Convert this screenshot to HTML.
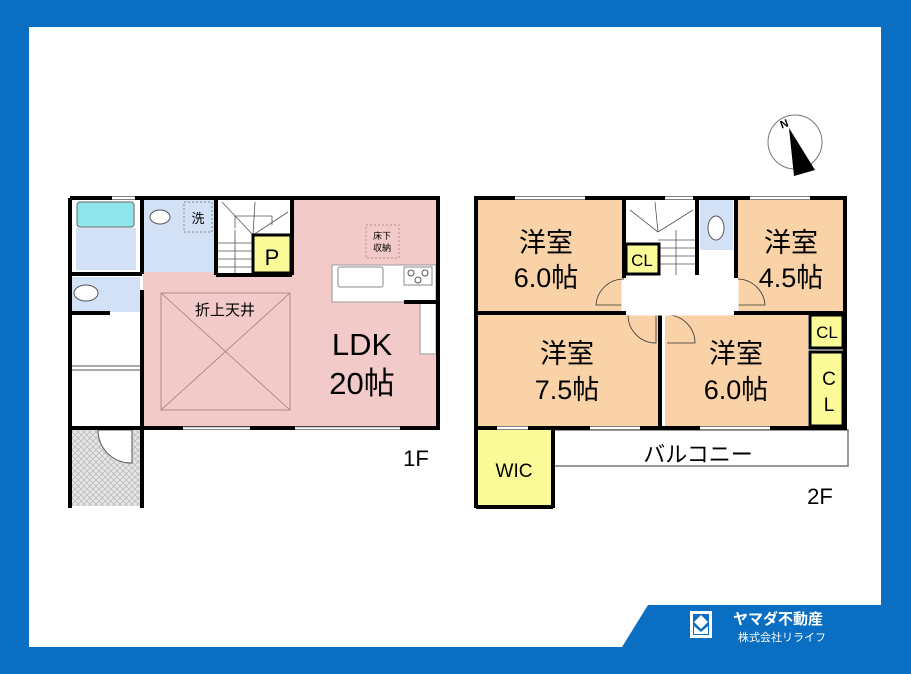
<!DOCTYPE html>
<html><head><meta charset="utf-8"><style>
html,body{margin:0;padding:0;background:#fff}
svg{display:block}
text{font-family:"Liberation Sans","Noto Sans CJK JP",sans-serif}
</style></head><body>
<svg width="911" height="674" viewBox="0 0 911 674" xmlns="http://www.w3.org/2000/svg">
<defs>
<pattern id="hatch" width="6" height="6" patternUnits="userSpaceOnUse">
<rect width="6" height="6" fill="#e6e6e6"/>
<path d="M0,0L6,6M6,0L0,6" stroke="#bbb" stroke-width="0.8"/>
</pattern>
</defs>
<rect width="911" height="674" fill="#0a6fc2"/>
<rect x="29" y="27" width="852" height="620" fill="#fff"/>
<!-- logo trapezoid -->
<polygon points="622,647 648,605 881,605 881,647" fill="#0a6fc2"/>
<rect x="690" y="611" width="22" height="27" fill="#fff"/>
<rect x="693" y="614" width="16" height="21" fill="#0a6fc2"/>
<polygon points="701,615 708,622 701,629 694,622" fill="#fff"/>
<polygon points="694,626 701,632 708,626 708,634 694,634" fill="#fff"/>
<text x="733" y="624" font-size="15" font-weight="bold" fill="#fff">ヤマダ不動産</text>
<text x="738" y="641" font-size="11" fill="#fff">株式会社リライフ</text>

<!-- compass -->
<circle cx="795" cy="142" r="27" fill="#fff" stroke="#777" stroke-width="1"/>
<polygon points="789,128 794,176 815,170" fill="#000"/>
<text x="780" y="127" font-size="11" font-weight="bold" transform="rotate(-20 786 123)" font-family="Liberation Serif,serif">N</text>

<!-- ===== 1F ===== -->
<rect x="143" y="200" width="293" height="227" fill="#f3caca"/>
<rect x="72" y="200" width="68" height="72" fill="#fff"/>
<rect x="76" y="228" width="60" height="42" fill="#d3e1f7"/>
<rect x="77" y="202" width="57" height="25" rx="3" fill="#8fe6ec" stroke="#666" stroke-width="1"/>
<rect x="143" y="200" width="72" height="72" fill="#d3e1f7"/>
<rect x="184" y="202" width="28" height="30" fill="none" stroke="#888" stroke-dasharray="2,2"/>
<text x="198" y="223" font-size="13" text-anchor="middle">洗</text>
<ellipse cx="160" cy="217" rx="10" ry="7" fill="#fff" stroke="#555"/>
<rect x="218" y="200" width="72" height="75" fill="#fff"/>
<g stroke="#555" stroke-width="0.8">
<line x1="218" y1="243" x2="253" y2="243"/><line x1="218" y1="251" x2="253" y2="251"/><line x1="218" y1="259" x2="253" y2="259"/><line x1="218" y1="267" x2="253" y2="267"/>
<line x1="235" y1="230" x2="235" y2="275"/>
<line x1="222" y1="202" x2="253" y2="235"/><line x1="255" y1="202" x2="253" y2="235"/><line x1="288" y1="212" x2="253" y2="235"/>
<polyline points="235,228 235,216 272,216 272,225" fill="none"/>
</g>
<rect x="253" y="235" width="38" height="38" fill="#fafa99" stroke="#000" stroke-width="3"/>
<text x="272" y="265" font-size="22" text-anchor="middle">P</text>
<rect x="72" y="277" width="68" height="35" fill="#d3e1f7"/>
<ellipse cx="86" cy="293" rx="12" ry="8" fill="#fff" stroke="#555"/>
<rect x="72" y="314" width="68" height="114" fill="#fff"/>
<line x1="72" y1="366" x2="140" y2="366" stroke="#555"/>
<line x1="72" y1="370" x2="140" y2="370" stroke="#555"/>
<!-- kitchen -->
<rect x="332" y="265" width="104" height="37" fill="#fff" stroke="#999"/>
<rect x="338" y="267" width="45" height="20" rx="2" fill="#fff" stroke="#888"/>
<rect x="404" y="267" width="28" height="18" fill="#fff" stroke="#888"/>
<circle cx="411" cy="273" r="3" fill="none" stroke="#555"/><circle cx="425" cy="273" r="3" fill="none" stroke="#555"/><circle cx="418" cy="280" r="3" fill="none" stroke="#555"/>
<rect x="420" y="302" width="16" height="52" fill="#fff" stroke="#999"/>
<rect x="366" y="225" width="33" height="33" fill="none" stroke="#b88" stroke-dasharray="2,2"/>
<text x="382" y="239" font-size="9" text-anchor="middle">床下</text>
<text x="382" y="251" font-size="9" text-anchor="middle">収納</text>
<!-- ceiling box -->
<rect x="161" y="293" width="129" height="117" fill="none" stroke="#a77" stroke-width="0.8"/>
<line x1="161" y1="293" x2="290" y2="410" stroke="#a77" stroke-width="0.8"/>
<line x1="290" y1="293" x2="161" y2="410" stroke="#a77" stroke-width="0.8"/>
<text x="225" y="315" font-size="15" text-anchor="middle">折上天井</text>
<text x="362" y="355" font-size="31" text-anchor="middle">LDK</text>
<text x="362" y="394" font-size="31" text-anchor="middle">20帖</text>
<!-- entrance -->
<rect x="72" y="430" width="68" height="76" fill="url(#hatch)"/>
<path d="M98,430 L132,430 L132,463 A33,33 0 0 1 98,430" fill="#fff" stroke="#555"/>
<!-- walls 1F -->
<g stroke="#000" stroke-width="4" fill="none">
<polyline points="70,198 438,198 438,428 142,428"/>
<line x1="70" y1="198" x2="70" y2="508"/>
<line x1="142" y1="198" x2="142" y2="274"/>
<line x1="142" y1="290" x2="142" y2="508"/>
<line x1="216" y1="198" x2="216" y2="275"/>
<line x1="70" y1="274" x2="142" y2="274"/>
<line x1="70" y1="313" x2="110" y2="313"/>
<line x1="70" y1="428" x2="142" y2="428"/>
<line x1="292" y1="198" x2="292" y2="275"/>
<line x1="216" y1="275" x2="292" y2="275"/>
<line x1="404" y1="302" x2="438" y2="302"/>
</g>
<g stroke="#fff" stroke-width="3">
<line x1="183" y1="428" x2="250" y2="428"/><line x1="295" y1="428" x2="400" y2="428"/>
<line x1="112" y1="198" x2="135" y2="198"/>
</g>
<g stroke="#777" stroke-width="0.8">
<line x1="183" y1="427" x2="250" y2="427"/><line x1="295" y1="427" x2="400" y2="427"/>
</g>
<text x="416" y="466" font-size="22" text-anchor="middle">1F</text>

<!-- ===== 2F ===== -->
<rect x="478" y="200" width="146" height="111" fill="#f9d2a8"/>
<rect x="738" y="200" width="105" height="111" fill="#f9d2a8"/>
<rect x="478" y="315" width="180" height="111" fill="#f9d2a8"/>
<rect x="665" y="315" width="143" height="111" fill="#f9d2a8"/>
<rect x="626" y="200" width="108" height="111" fill="#fff"/>
<rect x="700" y="200" width="33" height="50" fill="#d3e1f7"/>
<ellipse cx="716" cy="228" rx="8" ry="12" fill="#fff" stroke="#555"/>
<g stroke="#555" stroke-width="0.8">
<line x1="658" y1="240" x2="695" y2="240"/><line x1="658" y1="248" x2="695" y2="248"/><line x1="658" y1="256" x2="695" y2="256"/><line x1="658" y1="264" x2="695" y2="264"/>
<line x1="676" y1="230" x2="676" y2="275"/>
<line x1="630" y1="210" x2="658" y2="232"/><line x1="655" y1="202" x2="658" y2="232"/><line x1="693" y1="210" x2="658" y2="232"/>
</g>
<rect x="626" y="244" width="33" height="30" fill="#fafa99" stroke="#000" stroke-width="3"/>
<text x="642" y="266" font-size="17" text-anchor="middle">CL</text>
<rect x="810" y="315" width="33" height="33" fill="#fafa99" stroke="#000" stroke-width="3"/>
<text x="827" y="338" font-size="17" text-anchor="middle">CL</text>
<rect x="810" y="352" width="33" height="74" fill="#fafa99" stroke="#000" stroke-width="3"/>
<text x="829" y="385" font-size="19" text-anchor="middle">C</text>
<text x="829" y="411" font-size="19" text-anchor="middle">L</text>
<rect x="478" y="430" width="73" height="76" fill="#fafa99"/>
<text x="514" y="477" font-size="19" text-anchor="middle">WIC</text>
<polyline points="551,430 848,430 848,466 553,466" fill="none" stroke="#777" stroke-width="1.5"/>
<text x="698" y="462" font-size="22" text-anchor="middle">バルコニー</text>
<text x="546" y="252" font-size="27" text-anchor="middle">洋室</text>
<text x="546" y="287" font-size="27" text-anchor="middle">6.0帖</text>
<text x="791" y="252" font-size="27" text-anchor="middle">洋室</text>
<text x="791" y="287" font-size="27" text-anchor="middle">4.5帖</text>
<text x="567" y="363" font-size="27" text-anchor="middle">洋室</text>
<text x="567" y="399" font-size="27" text-anchor="middle">7.5帖</text>
<text x="736" y="363" font-size="27" text-anchor="middle">洋室</text>
<text x="736" y="399" font-size="27" text-anchor="middle">6.0帖</text>
<g fill="none" stroke="#333" stroke-width="0.8">
<path d="M624,279 A28,28 0 0 0 596,305 L624,305"/>
<path d="M738,279 A28,28 0 0 1 765,305 L738,305"/>
<path d="M628,315 A28,28 0 0 0 656,343 L656,315"/>
<path d="M667,315 A28,28 0 0 1 695,343 L667,343"/>
</g>
<g stroke="#000" stroke-width="4" fill="none">
<rect x="476" y="198" width="369" height="230"/>
<line x1="476" y1="313" x2="845" y2="313"/>
<line x1="624" y1="198" x2="624" y2="278"/>
<line x1="660" y1="313" x2="660" y2="428"/>
<line x1="736" y1="198" x2="736" y2="278"/>
<line x1="697" y1="198" x2="697" y2="275"/>
<line x1="476" y1="428" x2="476" y2="508"/>
<line x1="553" y1="428" x2="553" y2="508"/>
<line x1="476" y1="507" x2="553" y2="507"/>
</g>
<g stroke="#fff" stroke-width="5">
<line x1="624" y1="280" x2="624" y2="311"/><line x1="736" y1="280" x2="736" y2="311"/>
<line x1="626" y1="313" x2="658" y2="313"/><line x1="662" y1="313" x2="695" y2="313"/>
<line x1="626" y1="313" x2="734" y2="313"/>
</g>
<g stroke="#fff" stroke-width="3">
<line x1="515" y1="198" x2="585" y2="198"/><line x1="750" y1="198" x2="810" y2="198"/><line x1="665" y1="198" x2="693" y2="198"/>
<line x1="590" y1="428" x2="640" y2="428"/><line x1="700" y1="428" x2="770" y2="428"/>
<line x1="497" y1="428" x2="528" y2="428"/>
</g>
<text x="820" y="504" font-size="22" text-anchor="middle">2F</text>
</svg>
</body></html>
